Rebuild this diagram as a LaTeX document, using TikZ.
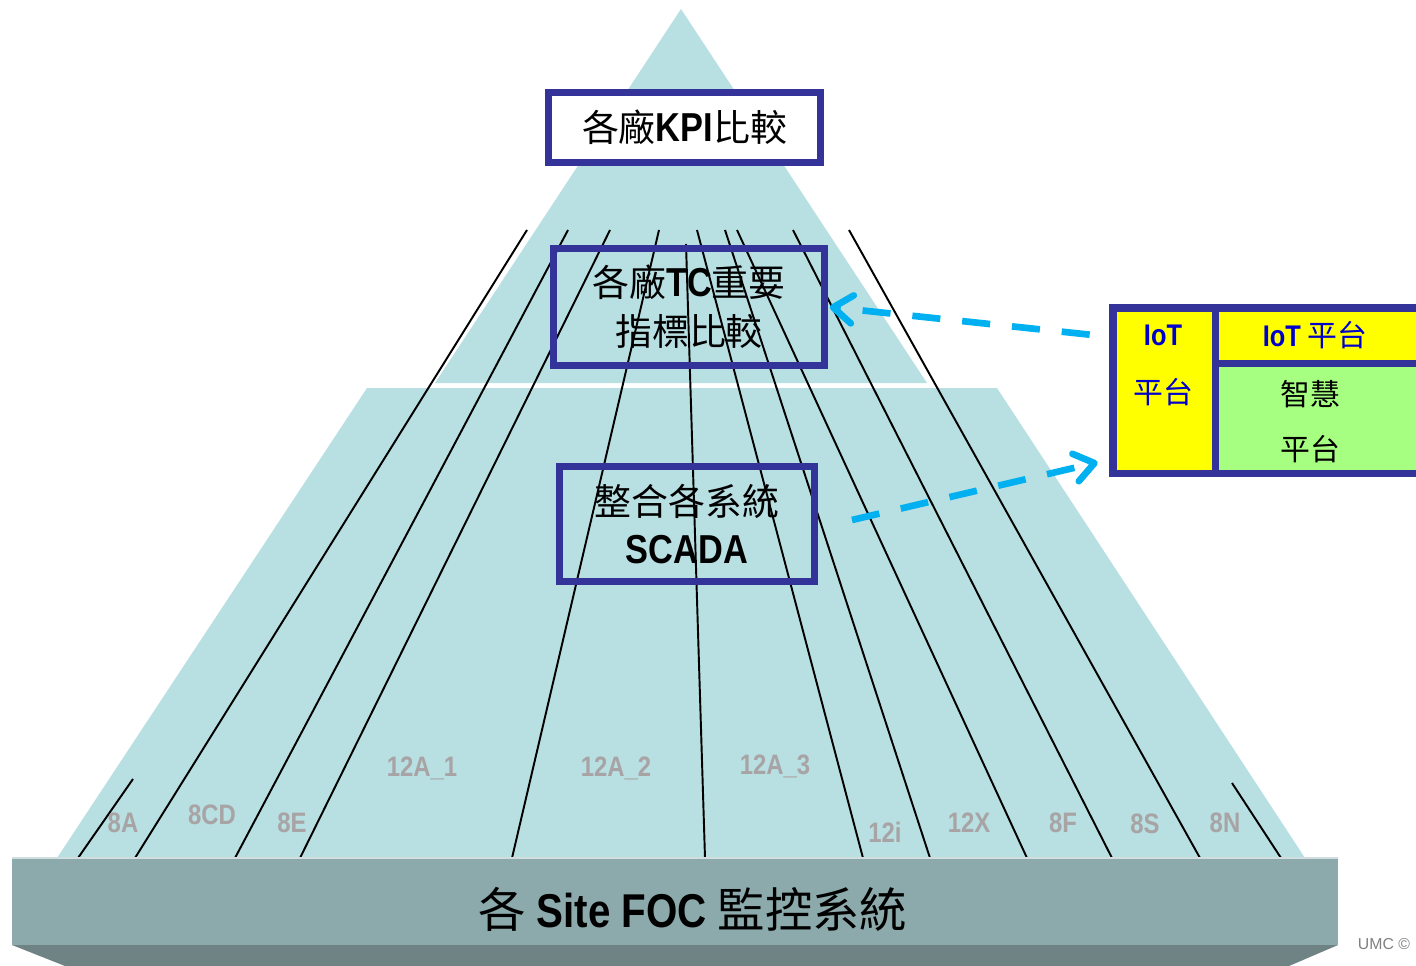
\documentclass[tikz,border=0pt]{standalone}
\usepackage{fontspec}
\usetikzlibrary{arrows.meta}
\newfontfamily\cjk{Noto Sans CJK TC}
\newfontfamily\narrow[FakeStretch=0.85]{Liberation Sans}
\newfontfamily\plainsans{Liberation Sans}
\newcommand{\en}[2][23]{{\narrow\bfseries\fontsize{#1}{28}\selectfont #2}}

\definecolor{pyr}{RGB}{184,223,226}
\definecolor{slab}{RGB}{140,170,172}
\definecolor{slabdark}{RGB}{111,131,132}
\definecolor{frame}{RGB}{51,51,153}
\definecolor{flowblue}{RGB}{0,176,240}
\definecolor{fabgray}{RGB}{168,163,164}
\definecolor{iotyellow}{RGB}{255,255,0}
\definecolor{iotgreen}{RGB}{166,255,128}
\definecolor{iotblue}{RGB}{0,0,204}

\tikzset{
  layerbox/.style={draw=frame, line width=4pt, inner sep=0pt, align=center,
    font=\cjk\fontsize{21}{28}\selectfont},
  fabline/.style={line width=1.1pt},
  fablabel/.style={text=fabgray, font=\narrow\bfseries\fontsize{16}{18}\selectfont},
  iottext/.style={font=\cjk\fontsize{17}{20}\selectfont},
  flow/.style={draw=flowblue, line width=3.8pt, dash pattern=on 16pt off 12.5pt,
    -{Straight Barb[length=11pt,width=16pt,round]}},
}

\begin{document}
\begin{tikzpicture}[x=0.02cm,y=-0.02cm]
    \useasboundingbox (0,0) rectangle (1416,966);
    \clip (0,0) rectangle (1416,966);
    % pyramid
    \fill[pyr] (681,9) -- (927,383) -- (435,383) -- cycle;
    \fill[pyr] (367,388) -- (997,388) -- (1305,858) -- (57,858) -- cycle;
    % fab lines
    \foreach \xa/\ya/\xb in {527/230/135, 568/230/235, 610/230/300, 659/230/512, 686/244/705,
        697/230/863, 725/230/930, 737/230/1027, 793/230/1112, 849/230/1200}
        \draw[fabline] (\xa,\ya) -- (\xb,858);
    \draw[fabline] (133,779) -- (78,858);
    \draw[fabline] (1232,783) -- (1281,858);
    % layers
    \node[layerbox, fill=white, minimum width=5.44cm, minimum height=1.40cm] (kpi) at (684.5,127.5)
        {各廠\en{KPI}比較};
    \node[layerbox, minimum width=5.42cm, minimum height=2.34cm] (tc) at (689,307)
        {各廠\en{TC}重要\\指標比較};
    \node[layerbox, minimum width=5.10cm, minimum height=2.30cm] (scada) at (687,524)
        {整合各系統\\[-1pt]\en{SCADA}};
    % IoT platform
    \node[fill=frame, inner sep=0pt, minimum width=6.62cm, minimum height=3.46cm] (iot) at (1274.5,390.5) {};
    \fill[iotyellow] (1117,312) rectangle (1212,470);
    \fill[iotyellow] (1219,312) rectangle (1440,360);
    \fill[iotgreen] (1219,367) rectangle (1440,470);
    \node[iottext, text=iotblue] (iota) at (1163,335) {\en[17]{IoT}};
    \node[iottext, text=iotblue] (iotb) at (1163,392) {平台};
    \node[iottext, text=iotblue] (iotc) at (1315,335) {\en[17]{IoT} 平台};
    \node[iottext] (smarta) at (1310,394) {智慧};
    \node[iottext] (smartb) at (1310,449) {平台};
    % flows
    \draw[flow] ([shift={(-19,31)}]iot.north west) -- ([xshift=1]tc.east);
    \draw[flow] ([shift={(34,-4)}]scada.east) -- ([shift={(-11,-15)}]iot.south west);
    % base slab
    \fill[slab] (12,858) rectangle (1338,945);
    \fill[slabdark] (12,945) -- (1338,945) -- (1289,966) -- (65,966) -- cycle;
    \draw[white!60!slab, line width=1.2pt] (12,858) -- (1338,858);
    \node[font=\cjk\fontsize{27}{30}\selectfont] (foc) at (693,909) {各 \en[27]{Site FOC} 監控系統};
    % fab names
    \node[fablabel] (f8a) at (123,823) {8A};
    \node[fablabel] (f8cd) at (212,815) {8CD};
    \node[fablabel] (f8e) at (292,823) {8E};
    \node[fablabel] (f12a) at (422,768) {12A\_1};
    \node[fablabel] (f12b) at (616,768) {12A\_2};
    \node[fablabel] (f12c) at (775,766) {12A\_3};
    \node[fablabel] (f12i) at (885,832) {12i};
    \node[fablabel] (f12x) at (969,823) {12X};
    \node[fablabel] (f8f) at (1063,823) {8F};
    \node[fablabel] (f8s) at (1145,824) {8S};
    \node[fablabel] (f8n) at (1225,823) {8N};
    \node[text=gray, font=\plainsans\fontsize{9}{11}\selectfont, inner sep=1pt] (umc) at (1384,944) {UMC ©};
\end{tikzpicture}
\end{document}
